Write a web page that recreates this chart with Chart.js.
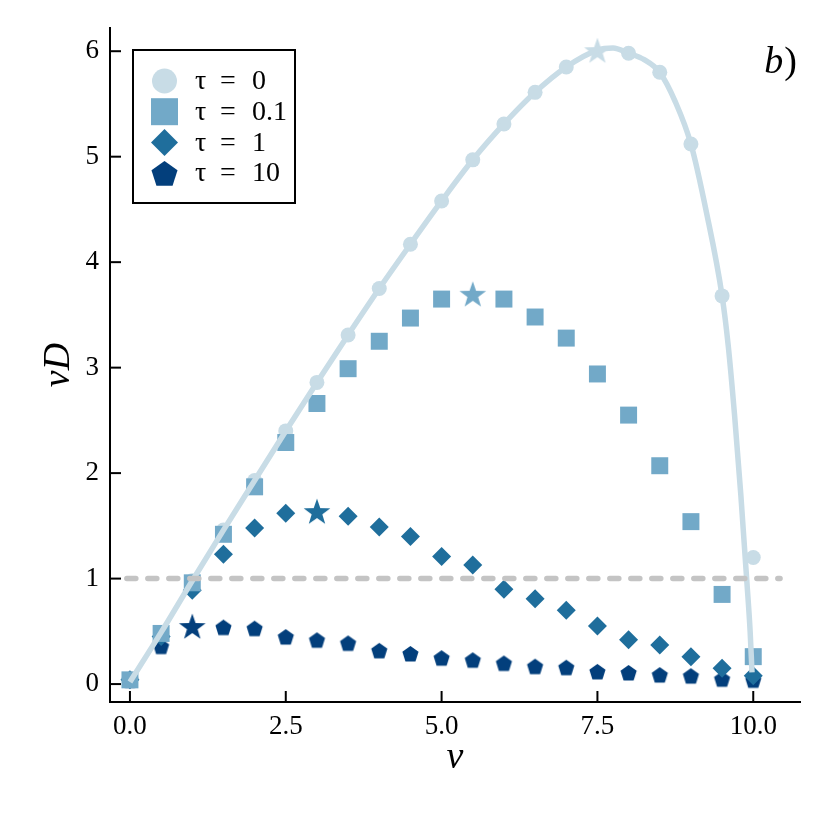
<!DOCTYPE html>
<html>
<head>
<meta charset="utf-8">
<script src="https://cdn.jsdelivr.net/npm/chart.js@4.4.1/dist/chart.umd.min.js"></script>
<style>
  html, body { margin: 0; padding: 0; background: #fff; }
</style>
</head>
<body>
<canvas id="nuChart" width="830" height="830"></canvas>
<script>
// nu values shared by all marker series
const nu = [0, 0.5, 1, 1.5, 2, 2.5, 3, 3.5, 4, 4.5, 5, 5.5, 6, 6.5, 7, 7.5, 8, 8.5, 9, 9.5, 10];

const tau0   = [0.04, 0.49, 0.98, 1.46, 1.93, 2.40, 2.86, 3.31, 3.75, 4.17, 4.58, 4.97, 5.31, 5.61, 5.85, 6.01, 5.98, 5.80, 5.12, 3.68, 1.20];
const tau01  = [0.04, 0.48, 0.96, 1.42, 1.87, 2.29, 2.66, 2.99, 3.25, 3.47, 3.65, 3.70, 3.65, 3.48, 3.28, 2.94, 2.55, 2.07, 1.54, 0.85, 0.26];
const tau1   = [0.04, 0.45, 0.89, 1.23, 1.48, 1.62, 1.64, 1.59, 1.49, 1.40, 1.21, 1.13, 0.90, 0.81, 0.70, 0.55, 0.42, 0.37, 0.26, 0.15, 0.08];
const tau10  = [0.04, 0.36, 0.55, 0.54, 0.53, 0.45, 0.42, 0.39, 0.32, 0.29, 0.25, 0.23, 0.20, 0.17, 0.16, 0.12, 0.11, 0.09, 0.08, 0.05, 0.04];

// index of the maximum, marked with a star
const starIdx = { tau0: 15, tau01: 11, tau1: 6, tau10: 2 };

// smooth curve
const curveNu  = [0, 0.5, 1, 1.5, 2, 2.5, 3, 3.5, 4, 4.5, 5, 5.5, 6, 6.5, 7, 7.5, 7.75, 8, 8.25, 8.5, 8.75, 9, 9.25, 9.5, 9.6, 9.7, 9.8, 9.9, 9.95, 9.98];
const curveVal = [0.02, 0.49, 0.98, 1.46, 1.93, 2.40, 2.86, 3.31, 3.75, 4.17, 4.58, 4.97, 5.31, 5.61, 5.85, 6.01, 6.03, 5.98, 5.92, 5.80, 5.52, 5.12, 4.47, 3.68, 3.20, 2.55, 1.80, 0.95, 0.50, 0.11];

const refNu  = [-0.05, 10.43];
const refVal = [1, 1];

const xTicks = [0, 2.5, 5, 7.5, 10];
const yTicks = [0, 1, 2, 3, 4, 5, 6];

const legendTau = ['0', '0.1', '1', '10'];
const colors = ['#c8dce6', '#72a9c8', '#1f6e9c', '#033f7c'];

const FONT = "'Liberation Serif', 'DejaVu Serif', serif";

function pts(xs, ys) { return xs.map((x, i) => ({ x: x, y: ys[i] })); }

function makePentagon(color, r) {
  const s = Math.ceil(2 * r + 2);
  const c = document.createElement('canvas');
  c.width = s; c.height = s;
  const g = c.getContext('2d');
  g.fillStyle = color;
  g.beginPath();
  for (let i = 0; i < 5; i++) {
    const a = -Math.PI / 2 + i * 2 * Math.PI / 5;
    g.lineTo(s / 2 + r * Math.cos(a), s / 2 + 1 + r * Math.sin(a));
  }
  g.closePath();
  g.fill();
  return c;
}

function makeStar(color, R) {
  const s = Math.ceil(2 * R + 2);
  const c = document.createElement('canvas');
  c.width = s; c.height = s;
  const g = c.getContext('2d');
  g.fillStyle = color;
  g.beginPath();
  for (let i = 0; i < 10; i++) {
    const a = -Math.PI / 2 + i * Math.PI / 5;
    const rr = i % 2 === 0 ? R : R * 0.4;
    g.lineTo(s / 2 + rr * Math.cos(a), s / 2 + 1.5 + rr * Math.sin(a));
  }
  g.closePath();
  g.fill();
  return c;
}

const stars = colors.map(c => makeStar(c, 14));
const pentagon = makePentagon(colors[3], 8.5);

function styleWithStar(base, idx, star) {
  return ctx => (ctx.dataIndex === idx ? star : base);
}

// inward ticks like the original plot
const innerTicks = {
  id: 'innerTicks',
  afterDraw(chart) {
    const { ctx, chartArea: a, scales } = chart;
    ctx.save();
    ctx.strokeStyle = '#000';
    ctx.lineWidth = 2;
    xTicks.forEach(v => {
      const px = scales.x.getPixelForValue(v);
      ctx.beginPath(); ctx.moveTo(px, a.bottom); ctx.lineTo(px, a.bottom - 11); ctx.stroke();
    });
    yTicks.forEach(v => {
      const py = scales.y.getPixelForValue(v);
      ctx.beginPath(); ctx.moveTo(a.left, py); ctx.lineTo(a.left + 11, py); ctx.stroke();
    });
    ctx.restore();
  }
};

function drawMarker(ctx, kind, x, y, color) {
  ctx.fillStyle = color;
  ctx.beginPath();
  if (kind === 'circle') {
    ctx.arc(x, y, 12.5, 0, 2 * Math.PI);
  } else if (kind === 'rect') {
    ctx.rect(x - 13.5, y - 13.5, 27, 27);
  } else if (kind === 'diamond') {
    ctx.moveTo(x, y - 13.5); ctx.lineTo(x + 13.5, y); ctx.lineTo(x, y + 13.5); ctx.lineTo(x - 13.5, y);
  } else {
    for (let i = 0; i < 5; i++) {
      const a = -Math.PI / 2 + i * 2 * Math.PI / 5;
      ctx.lineTo(x + 13.7 * Math.cos(a), y + 1.5 + 13.7 * Math.sin(a));
    }
  }
  ctx.closePath();
  ctx.fill();
}

const boxLegend = {
  id: 'boxLegend',
  afterDraw(chart) {
    const { ctx, chartArea: a } = chart;
    const bx = a.left + 23, by = a.top + 22, bw = 162, bh = 153;
    ctx.save();
    ctx.fillStyle = '#fff';
    ctx.fillRect(bx, by, bw, bh);
    ctx.strokeStyle = '#000';
    ctx.lineWidth = 2;
    ctx.strokeRect(bx, by, bw, bh);
    const kinds = ['circle', 'rect', 'diamond', 'pentagon'];
    ctx.font = '28px ' + FONT;
    ctx.textBaseline = 'middle';
    legendTau.forEach((t, i) => {
      const yy = by + 31 + i * 30.7;
      drawMarker(ctx, kinds[i], bx + 31.5, yy, colors[i]);
      ctx.fillStyle = '#000';
      ctx.fillText('τ', bx + 62, yy + 1);
      ctx.fillText('=', bx + 87, yy + 1);
      ctx.fillText(t, bx + 119, yy + 1);
    });
    // panel label
    ctx.textBaseline = 'alphabetic';
    ctx.font = 'italic 38px ' + FONT;
    const bw2 = ctx.measureText('b').width;
    ctx.font = '38px ' + FONT;
    const pw = ctx.measureText(')').width;
    const rx = a.right - 3;
    ctx.fillText(')', rx - pw, a.top + 45);
    ctx.font = 'italic 38px ' + FONT;
    ctx.fillText('b', rx - pw - bw2 - 1, a.top + 45);
    ctx.restore();
  }
};

new Chart(document.getElementById('nuChart'), {
  type: 'scatter',
  data: {
    datasets: [
      {
        label: 'ref',
        data: pts(refNu, refVal),
        showLine: true,
        borderColor: '#c4c4c4',
        borderWidth: 5.5,
        borderDash: [9, 12],
        borderCapStyle: 'round',
        pointRadius: 0
      },
      {
        label: 'curve',
        data: pts(curveNu, curveVal),
        showLine: true,
        borderColor: colors[0],
        borderWidth: 5.5,
        cubicInterpolationMode: 'monotone',
        pointRadius: 0
      },
      {
        label: 'τ = 0.1',
        data: pts(nu, tau01),
        backgroundColor: colors[1],
        borderWidth: 0,
        pointStyle: styleWithStar('rect', starIdx.tau01, stars[1]),
        pointRadius: 12
      },
      {
        label: 'τ = 0',
        data: pts(nu, tau0),
        backgroundColor: colors[0],
        borderWidth: 0,
        pointStyle: styleWithStar('circle', starIdx.tau0, stars[0]),
        pointRadius: 7.5
      },
      {
        label: 'τ = 1',
        data: pts(nu, tau1),
        backgroundColor: colors[2],
        borderWidth: 0,
        pointStyle: styleWithStar('rectRot', starIdx.tau1, stars[2]),
        pointRadius: 9.5
      },
      {
        label: 'τ = 10',
        data: pts(nu, tau10),
        backgroundColor: colors[3],
        borderWidth: 0,
        pointStyle: styleWithStar(pentagon, starIdx.tau10, stars[3]),
        pointRadius: 8.5
      }
    ]
  },
  options: {
    responsive: false,
    animation: false,
    events: [],
    layout: { padding: { left: 0, right: 30, top: 28, bottom: 0 } },
    plugins: {
      legend: { display: false },
      tooltip: { enabled: false }
    },
    scales: {
      x: {
        type: 'linear',
        min: -0.32,
        max: 10.75,
        afterBuildTicks: s => { s.ticks = xTicks.map(v => ({ value: v })); },
        afterFit: s => { s.height = 128; },
        grid: { display: false, drawTicks: false },
        border: { display: true, color: '#000', width: 2 },
        ticks: {
          padding: 9,
          color: '#000',
          font: { family: FONT, size: 27 },
          callback: v => v.toFixed(1),
          maxRotation: 0
        },
        title: {
          display: true,
          text: 'ν',
          color: '#000',
          font: { family: FONT, size: 38, style: 'italic' },
          padding: { top: 0, bottom: 49 }
        }
      },
      y: {
        type: 'linear',
        min: -0.17,
        max: 6.22,
        afterBuildTicks: s => { s.ticks = yTicks.map(v => ({ value: v })); },
        afterFit: s => { s.width = 110; },
        grid: { display: false, drawTicks: false },
        border: { display: true, color: '#000', width: 2 },
        ticks: {
          padding: 11,
          color: '#000',
          font: { family: FONT, size: 27 },
          callback: v => String(v)
        },
        title: {
          display: true,
          text: 'νD',
          color: '#000',
          font: { family: FONT, size: 38, style: 'italic' },
          padding: { top: 36, bottom: 0 }
        }
      }
    }
  },
  plugins: [innerTicks, boxLegend]
});
</script>
</body>
</html>
